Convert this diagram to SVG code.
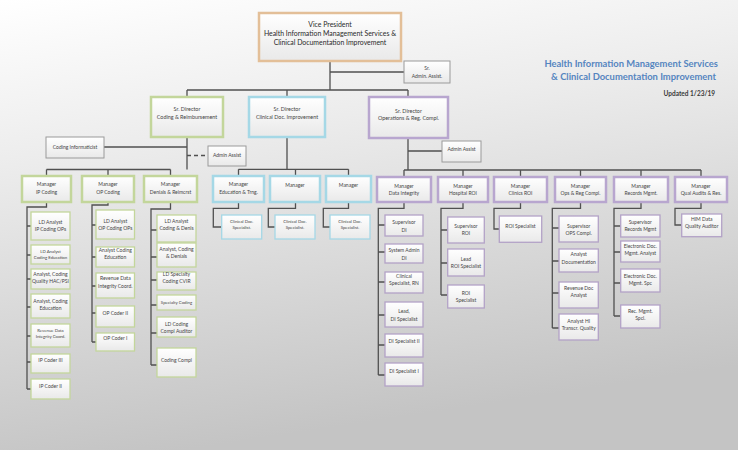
<svg xmlns="http://www.w3.org/2000/svg" width="738" height="450" viewBox="0 0 738 450">
<defs>
<linearGradient id="bg" x1="0" y1="0" x2="0.25" y2="1">
<stop offset="0" stop-color="#ffffff"/>
<stop offset="0.35" stop-color="#ececec"/>
<stop offset="1" stop-color="#c4c4c4"/>
</linearGradient>
<linearGradient id="bf" x1="0" y1="0" x2="0" y2="1">
<stop offset="0" stop-color="#ffffff"/>
<stop offset="1" stop-color="#e9e9e9"/>
</linearGradient>
<style>
.t{font-family:Lato,"Open Sans","Liberation Sans",sans-serif;fill:#444;text-anchor:middle;font-size:5px}
.s{font-size:4.3px}
.vp{font-size:6.9px;fill:#2a2a2a}
.sd{font-size:5.4px}
.gB{fill:url(#bf);stroke:#c3d69b;stroke-width:2.5}
.g{fill:url(#bf);stroke:#c3d69b;stroke-width:1.3}
.cB{fill:url(#bf);stroke:#a5d8e6;stroke-width:2.5}
.c{fill:url(#bf);stroke:#a5d8e6;stroke-width:1.3}
.pB{fill:url(#bf);stroke:#b8a6cf;stroke-width:2.5}
.p{fill:url(#bf);stroke:#b3a2c7;stroke-width:1.3}
.n{fill:url(#bf);stroke:#9a9a9a;stroke-width:1}
.vpB{fill:url(#bf);stroke:#e3bf98;stroke-width:2.5}
#connectors path{fill:none;stroke:#505050;stroke-width:1.3}
#connectors .d{stroke-dasharray:4,3}
.ttl{font-family:Lato,"Open Sans","Liberation Sans",sans-serif;font-weight:bold;fill:#5585c0;font-size:9.4px;text-anchor:end}
.upd{font-family:Lato,"Open Sans","Liberation Sans",sans-serif;font-weight:bold;fill:#3a3a3a;font-size:6.5px;text-anchor:end}
</style>
</defs>
<rect x="0" y="0" width="738" height="450" fill="url(#bg)"/>

<g id="title">
<text class="ttl" x="718" y="67">Health Information Management Services</text>
<text class="ttl" x="716" y="80">&amp; Clinical Documentation Improvement</text>
<text class="upd" x="715" y="96">Updated 1/23/19</text>
</g>

<g id="connectors">
<path d="M330,61 V90 M330,72 H404 M187,90 H408 M187,90 V97 M287,90 V97 M408,90 V97"/>
<path d="M187,137 V169.5 M104,147 H187 M46.5,169.5 H170.5 M46.5,169.5 V176 M108,169.5 V176 M170.5,169.5 V176"/>
<path class="d" d="M187,155.5 H208"/>
<path d="M287,137 V169.3 M238.5,169.3 H348.5 M238.5,169.3 V176 M295.5,169.3 V176 M348.5,169.3 V176"/>
<path d="M408,138 V170 M408,151 H442 M404,170 H701 M404,170 V177 M463,170 V177 M520.5,170 V177 M580.5,170 V177 M641,170 V177 M701,170 V177"/>
<path d="M46.5,202 V207 H27 V389 M27,226 H31 M27,255 H31 M27,279 H31 M27,307 H31 M27,336 H31 M27,362 H31 M27,389 H31"/>
<path d="M108,202 V205 H92 V342 M92,225 H96 M92,257 H96 M92,286 H96 M92,313 H96 M92,342 H96"/>
<path d="M170.5,202 V209 H151 V365 M151,230 H157 M151,257 H157 M151,280 H157 M151,305 H157 M151,333 H157 M151,365 H157"/>
<path d="M238.5,202 V208.3 H213.3 V227 H221.7 M295.5,202 V208.3 H268.3 V227 H275 M348.5,202 V208.3 H323.3 V227 H330"/>
<path d="M404,202 V208.3 H378.3 V375 M378.3,225 H385 M378.3,252 H385 M378.3,282 H385 M378.3,315 H385 M378.3,345 H385 M378.3,375 H385"/>
<path d="M463,202 V208.3 H441 V295 M441,230 H447.7 M441,263 H447.7 M441,295 H447.7"/>
<path d="M520.5,202 V208.3 H494 V229 H499.3"/>
<path d="M580.5,202 V208.3 H552.3 V328 M552.3,228 H559 M552.3,261 H559 M552.3,293 H559 M552.3,328 H559"/>
<path d="M641,202 V208.3 H614 V316 M614,226 H620.7 M614,252 H620.7 M614,283 H620.7 M614,316 H620.7"/>
<path d="M701,202 V208.3 H675 V225 H681.7"/>
</g>

<g id="vp"><rect class="vpB" x="259" y="13" width="142" height="48"/>
<text class="t vp" x="330" y="26.5">Vice President</text>
<text class="t vp" x="330" y="35.5">Health Information Management Services &amp;</text>
<text class="t vp" x="330" y="44.5">Clinical Documentation Improvement</text></g>

<g id="sr-admin"><rect class="n" x="404" y="61" width="46" height="22"/>
<text class="t" x="427" y="70">Sr.</text><text class="t" x="427" y="78">Admin. Assist.</text></g>

<g id="sd-coding"><rect class="gB" x="151" y="97" width="72" height="40"/>
<text class="t sd" x="187" y="111">Sr. Director</text><text class="t sd" x="187" y="118.5">Coding &amp; Reimbursement</text></g>
<g id="sd-cdi"><rect class="cB" x="249" y="97" width="76" height="40"/>
<text class="t sd" x="287" y="111">Sr. Director</text><text class="t sd" x="287" y="118.5">Clinical Doc. Improvement</text></g>
<g id="sd-ops"><rect class="pB" x="369" y="97" width="79" height="41"/>
<text class="t sd" x="408.5" y="112.5">Sr. Director</text><text class="t sd" x="408.5" y="120">Operations &amp; Reg. Compl.</text></g>

<g id="coding-informaticist"><rect class="n" x="46" y="137" width="58" height="21"/>
<text class="t" x="75" y="149">Coding Informaticist</text></g>
<g id="admin-assist-1"><rect class="n" x="208" y="146" width="38" height="20"/>
<text class="t" x="227" y="157">Admin Assist</text></g>
<g id="admin-assist-2"><rect class="n" x="442" y="141" width="39" height="21"/>
<text class="t" x="461.5" y="151">Admin Assist</text></g>

<g id="m-ip"><rect class="gB" x="22" y="176" width="49" height="26"/>
<text class="t" x="46.5" y="186">Manager</text><text class="t" x="46.5" y="193.5">IP Coding</text></g>
<g id="m-op"><rect class="gB" x="82" y="176" width="52" height="26"/>
<text class="t" x="108" y="186">Manager</text><text class="t" x="108" y="193.5">OP Coding</text></g>
<g id="m-den"><rect class="gB" x="144" y="176" width="53" height="26"/>
<text class="t" x="170.5" y="186">Manager</text><text class="t" x="170.5" y="193.5">Denials &amp; Reimcrst</text></g>

<g id="m-edu"><rect class="cB" x="213" y="176" width="51" height="26"/>
<text class="t" x="238.5" y="186">Manager</text><text class="t" x="238.5" y="193.5">Education &amp; Trng.</text></g>
<g id="m-cdi2"><rect class="cB" x="270" y="176" width="50" height="26"/>
<text class="t" x="295" y="187">Manager</text></g>
<g id="m-cdi3"><rect class="cB" x="326" y="176" width="45" height="26"/>
<text class="t" x="348.5" y="187">Manager</text></g>

<g id="m-di"><rect class="pB" x="377" y="177" width="54" height="25"/>
<text class="t" x="404" y="187.5">Manager</text><text class="t" x="404" y="195">Data Integrity</text></g>
<g id="m-hroi"><rect class="pB" x="438" y="177" width="50" height="25"/>
<text class="t" x="463" y="187.5">Manager</text><text class="t" x="463" y="195">Hospital ROI</text></g>
<g id="m-croi"><rect class="pB" x="494" y="177" width="53" height="25"/>
<text class="t" x="520.5" y="187.5">Manager</text><text class="t" x="520.5" y="195">Clinics ROI</text></g>
<g id="m-ops"><rect class="pB" x="555" y="177" width="51" height="25"/>
<text class="t" x="580.5" y="187.5">Manager</text><text class="t" x="580.5" y="195">Ops &amp; Reg Compl.</text></g>
<g id="m-rec"><rect class="pB" x="614" y="177" width="54" height="25"/>
<text class="t" x="641" y="187.5">Manager</text><text class="t" x="641" y="195">Records Mgmt.</text></g>
<g id="m-qual"><rect class="pB" x="675" y="177" width="52" height="25"/>
<text class="t" x="701" y="187.5">Manager</text><text class="t" x="701" y="195">Qual Audits &amp; Res.</text></g>

<g id="ip-1"><rect class="g" x="31" y="212" width="39" height="28"/>
<text class="t" x="50.5" y="223.5">LD Analyst</text><text class="t" x="50.5" y="231">IP Coding OPs</text></g>
<g id="ip-2"><rect class="g" x="31" y="245" width="39" height="19"/>
<text class="t s" x="50.5" y="252.5">LD Analyst</text><text class="t s" x="50.5" y="259">Coding Education</text></g>
<g id="ip-3"><rect class="g" x="31" y="269" width="39" height="20"/>
<text class="t" x="50.5" y="276">Analyst, Coding</text><text class="t" x="50.5" y="282.5">Quality HAC/PSI</text></g>
<g id="ip-4"><rect class="g" x="31" y="294" width="39" height="24"/>
<text class="t" x="50.5" y="303">Analyst, Coding</text><text class="t" x="50.5" y="310">Education</text></g>
<g id="ip-5"><rect class="g" x="31" y="324" width="39" height="23"/>
<text class="t s" x="50.5" y="331.5">Revenue Data</text><text class="t s" x="50.5" y="337.5">Integrity Coord.</text></g>
<g id="ip-6"><rect class="g" x="31" y="354" width="39" height="19"/>
<text class="t" x="50.5" y="362">IP Coder III</text></g>
<g id="ip-7"><rect class="g" x="31" y="379" width="39" height="20"/>
<text class="t" x="50.5" y="387.5">IP Coder II</text></g>

<g id="op-1"><rect class="g" x="96" y="210" width="38.5" height="29"/>
<text class="t" x="115.3" y="222.5">LD Analyst</text><text class="t" x="115.3" y="230">OP Coding OPs</text></g>
<g id="op-2"><rect class="g" x="96" y="247" width="38.5" height="20"/>
<text class="t" x="115.3" y="252">Analyst Coding</text><text class="t" x="115.3" y="258.5">Education</text></g>
<g id="op-3"><rect class="g" x="96" y="273" width="38.5" height="25"/>
<text class="t" x="115.3" y="280">Revenue Data</text><text class="t" x="115.3" y="287.5">Integrity Coord.</text></g>
<g id="op-4"><rect class="g" x="96" y="306" width="38.5" height="21"/>
<text class="t" x="115.3" y="315">OP Coder II</text></g>
<g id="op-5"><rect class="g" x="96" y="333" width="38.5" height="18"/>
<text class="t" x="115.3" y="339.5">OP Coder I</text></g>

<g id="dn-1"><rect class="g" x="157" y="215" width="39" height="27"/>
<text class="t" x="176.5" y="222.5">LD Analyst</text><text class="t" x="176.5" y="230">Coding &amp; Denls</text></g>
<g id="dn-2"><rect class="g" x="157" y="243" width="39" height="24"/>
<text class="t" x="176.5" y="251">Analyst, Coding</text><text class="t" x="176.5" y="257.5">&amp; Denials</text></g>
<g id="dn-3"><rect class="g" x="157" y="272" width="39" height="18"/>
<text class="t" x="176.5" y="276">LD Specialty</text><text class="t" x="176.5" y="282.5">Coding CVIR</text></g>
<g id="dn-4"><rect class="g" x="157" y="295" width="39" height="15"/>
<text class="t s" x="176.5" y="304">Specialty Coding</text></g>
<g id="dn-5"><rect class="g" x="157" y="317" width="39" height="20"/>
<text class="t" x="176.5" y="326">LD Coding</text><text class="t" x="176.5" y="332.5">Compl Auditor</text></g>
<g id="dn-6"><rect class="g" x="157" y="348" width="39" height="29"/>
<text class="t" x="176.5" y="362">Coding Compl</text></g>

<g id="cdi-1"><rect class="c" x="221.7" y="215" width="40" height="24"/>
<text class="t s" x="241.7" y="222.5">Clinical Doc.</text><text class="t s" x="241.7" y="228.5">Specialist.</text></g>
<g id="cdi-2"><rect class="c" x="275" y="215" width="40" height="24"/>
<text class="t s" x="295" y="222.5">Clinical Doc.</text><text class="t s" x="295" y="228.5">Specialist.</text></g>
<g id="cdi-3"><rect class="c" x="330" y="215" width="40" height="24"/>
<text class="t s" x="350" y="222.5">Clinical Doc.</text><text class="t s" x="350" y="228.5">Specialist.</text></g>

<g id="di-1"><rect class="p" x="385" y="215" width="38" height="21"/>
<text class="t" x="404" y="223.5">Supervisor</text><text class="t" x="404" y="231.5">DI</text></g>
<g id="di-2"><rect class="p" x="385" y="244" width="38" height="19"/>
<text class="t" x="404" y="251.5">System Admin</text><text class="t" x="404" y="259.5">DI</text></g>
<g id="di-3"><rect class="p" x="385" y="272" width="38" height="21"/>
<text class="t" x="404" y="278">Clinical</text><text class="t" x="404" y="285">Specialist, RN</text></g>
<g id="di-4"><rect class="p" x="385" y="302" width="38" height="25"/>
<text class="t" x="404" y="312.5">Lead,</text><text class="t" x="404" y="320.5">DI Specialist</text></g>
<g id="di-5"><rect class="p" x="385" y="334" width="38" height="23"/>
<text class="t" x="404" y="342.5">DI Specialist II</text></g>
<g id="di-6"><rect class="p" x="385" y="363" width="38" height="23"/>
<text class="t" x="404" y="372.5">DI Specialist I</text></g>

<g id="hr-1"><rect class="p" x="447.7" y="217" width="36.6" height="26"/>
<text class="t" x="466" y="228">Supervisor</text><text class="t" x="466" y="235">ROI</text></g>
<g id="hr-2"><rect class="p" x="447.7" y="249" width="36.6" height="27"/>
<text class="t" x="466" y="261">Lead</text><text class="t" x="466" y="267.5">ROI Specialist</text></g>
<g id="hr-3"><rect class="p" x="447.7" y="285" width="36.6" height="23"/>
<text class="t" x="466" y="294.5">ROI</text><text class="t" x="466" y="302">Specialist</text></g>

<g id="cr-1"><rect class="p" x="499.3" y="216" width="42.4" height="26.3"/>
<text class="t" x="520.5" y="228">ROI Specialist</text></g>

<g id="op-c1"><rect class="p" x="559" y="216" width="39.3" height="26"/>
<text class="t" x="578.7" y="227.5">Supervisor</text><text class="t" x="578.7" y="235">OPS Compl.</text></g>
<g id="op-c2"><rect class="p" x="559" y="249" width="39.3" height="23"/>
<text class="t" x="578.7" y="256">Analyst</text><text class="t" x="578.7" y="263.5">Documentation</text></g>
<g id="op-c3"><rect class="p" x="559" y="282" width="39.3" height="26"/>
<text class="t" x="578.7" y="289.5">Revenue Doc</text><text class="t" x="578.7" y="297">Analyst</text></g>
<g id="op-c4"><rect class="p" x="559" y="314" width="39.3" height="26"/>
<text class="t" x="578.7" y="322.5">Analyst HI</text><text class="t" x="578.7" y="329.5">Transcr. Quality</text></g>

<g id="rec-1"><rect class="p" x="620.7" y="215" width="39.3" height="22"/>
<text class="t" x="640.3" y="224">Supervisor</text><text class="t" x="640.3" y="231">Records Mgmt</text></g>
<g id="rec-2"><rect class="p" x="620.7" y="241" width="39.3" height="21"/>
<text class="t" x="640.3" y="248">Electronic Doc.</text><text class="t" x="640.3" y="254.5">Mgmt. Analyst</text></g>
<g id="rec-3"><rect class="p" x="620.7" y="269" width="39.3" height="23"/>
<text class="t" x="640.3" y="278">Electronic Doc.</text><text class="t" x="640.3" y="285">Mgmt. Spc</text></g>
<g id="rec-4"><rect class="p" x="620.7" y="305" width="39.3" height="23"/>
<text class="t" x="640.3" y="313">Rec. Mgmt.</text><text class="t" x="640.3" y="320">Spcl.</text></g>

<g id="qa-1"><rect class="p" x="681.7" y="214" width="40" height="22.7"/>
<text class="t" x="701.7" y="221">HIM Data</text><text class="t" x="701.7" y="228">Quality Auditor</text></g>
</svg>
